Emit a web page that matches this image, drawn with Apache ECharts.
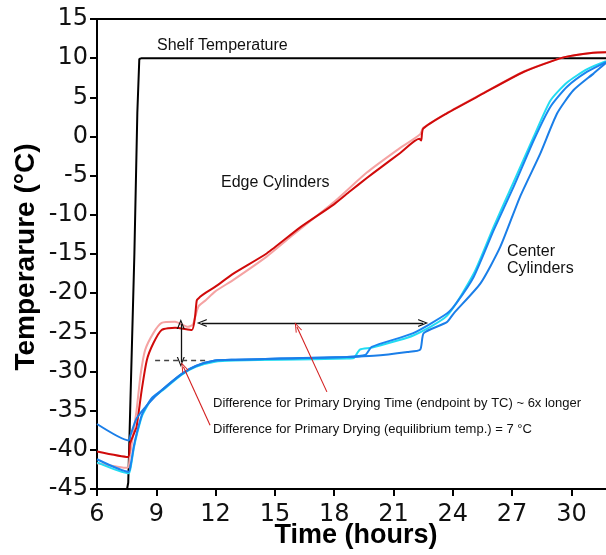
<!DOCTYPE html>
<html>
<head>
<meta charset="utf-8">
<script src="https://cdn.jsdelivr.net/npm/echarts@6/dist/echarts.min.js"></script>
<style>
html,body{margin:0;padding:0;background:#fff;}
#c{width:606px;height:555px;}
</style>
</head>
<body>
<div id="c"></div>
<script>
// ---- data (time in hours, temperature in °C) ----
var xTicks = [6, 9, 12, 15, 18, 21, 24, 27, 30];
var yTicks = [-45, -40, -35, -30, -25, -20, -15, -10, -5, 0, 5, 10, 15];

var shelfTemp = [[6,-45],[7.52,-45],[7.58,-44.2],[7.89,-15.1],[8.04,3.0],[8.14,9.9],[8.26,10],[31.75,10]];

var edgeDark = [[6,-40.2],[7.57,-40.9],[7.67,-39.2],[7.89,-37.8],[8.0,-37.1],[8.26,-32.4],[8.52,-28.55],[8.85,-26.4],
  [9.27,-24.7],[9.95,-24.4],[10.8,-24.7],[10.96,-23.0],[11.05,-20.9],[11.2,-20.5],[11.47,-20.0],[11.97,-19.2],
  [12.9,-17.5],[14.6,-14.9],[16.28,-11.6],[17.97,-8.7],[18.8,-7.0],[19.65,-5.3],[20.33,-4.0],[21.34,-2.1],
  [22.3,-0.3],[22.4,-0.5],[22.5,1.0],[23.7,2.96],[25.4,5.3],[27.6,8.27],[29.6,10.1],[31.1,10.7],[31.75,10.75]];

var edgeLight = [[6,-41.7],[7.55,-42.3],[7.65,-41.0],[7.8,-38.5],[8.0,-35.0],[8.2,-30.5],[8.43,-27.3],[8.85,-25.1],
  [9.27,-23.8],[9.95,-23.66],[10.6,-24.3],[10.85,-24.0],[11.13,-21.7],[11.5,-20.9],[11.97,-19.8],[12.9,-18.3],
  [14.6,-15.3],[15.8,-12.8],[17.97,-8.4],[19.65,-4.6],[21.2,-1.7],[22.35,0.3],[22.5,1.1],[23.7,3.0],[25.4,5.35],
  [27.6,8.3],[29.6,10.1],[31.1,10.7],[31.75,10.75]];

var centerA = [[6,-36.7],[7.6,-38.8],[7.7,-38.1],[8.0,-36.0],[8.6,-34.1],[9.27,-32.4],[10.29,-30.3],[11.0,-29.3],
  [11.97,-28.6],[13,-28.5],[15.27,-28.35],[18.64,-28.15],[20,-28.0],[21.7,-27.5],[22.35,-27.2],[22.53,-25.1],
  [23.7,-23.7],[24.04,-22.6],[25.4,-18.75],[26.4,-14.1],[27.4,-7.7],[28.43,-2.15],[29.28,2.96],[30.1,5.9],
  [31.13,8.06],[31.75,9.4]];

var centerB = [[6,-41.2],[7.6,-42.8],[7.72,-41.7],[7.86,-39.6],[8.03,-37.7],[8.29,-35.4],[8.77,-33.4],[9.27,-32.4],
  [10.29,-30.3],[11.0,-29.3],[11.97,-28.6],[13,-28.5],[15.27,-28.35],[18.64,-28.15],[19.57,-27.9],[19.9,-26.85],
  [22.0,-25.1],[23.7,-22.6],[24.2,-21.2],[25.06,-17.9],[26.07,-11.95],[27.08,-6.4],[28.1,-0.45],[28.94,3.8],
  [29.78,6.35],[30.8,8.27],[31.75,9.5]];

var centerCyan = [[6,-41.6],[7.6,-43.0],[7.72,-42.0],[7.86,-39.8],[8.03,-37.9],[8.29,-35.6],[8.77,-33.5],[9.27,-32.5],
  [10.29,-30.4],[11.0,-29.4],[11.97,-28.75],[13,-28.6],[15.27,-28.5],[18.64,-28.35],[18.98,-28.3],[19.3,-27.2],
  [19.9,-26.95],[22.0,-25.4],[23.7,-22.9],[25.06,-17.5],[26.07,-11.5],[27.08,-5.8],[28.1,0.0],[28.94,4.6],
  [29.78,6.9],[30.8,8.6],[31.75,9.6]];

// annotation segments
var timeArrow = [[11.3,-23.8],[22.5,-23.8]];
var tempArrow = [[10.24,-23.95],[10.24,-28.8]];
var equilLine = [[8.94,-28.6],[11.55,-28.6]];
var pointerTime = [[17.63,-32.6],[16.11,-24.3]];
var pointerTemp = [[11.72,-36.85],[10.37,-29.4]];

var chev = 'path://M5,0 L10,10 L8.5,10 L5,2.8 L1.5,10 L0,10 Z';

function seg(p){ return [{coord:p[0]},{coord:p[1]}]; }
function curve(data, color, z){
  return {type:'line', data:data, showSymbol:false, symbol:'none', smooth:0.2,
    lineStyle:{color:color, width:2}, z:z};
}

var chart = echarts.init(document.getElementById('c'), null, {renderer:'canvas'});
var tickFont = {fontFamily:'DejaVu Sans', fontSize:24, color:'#111'};

chart.setOption({
  animation:false,
  backgroundColor:'#fff',
  grid:{left:97, right:0, top:19, bottom:66},
  xAxis:[{
    type:'value', min:6, max:31.75, interval:3,
    axisLine:{show:true, onZero:false, lineStyle:{color:'#000', width:2}},
    axisTick:{show:true, inside:false, length:7, lineStyle:{color:'#000', width:2}},
    axisLabel:Object.assign({margin:14, showMaxLabel:false,
      formatter:function(v){ return xTicks.indexOf(v) >= 0 ? String(v) : ''; }}, tickFont),
    splitLine:{show:false}
  },{
    type:'value', position:'top', min:6, max:31.75,
    axisLine:{show:true, onZero:false, lineStyle:{color:'#000', width:2}},
    axisTick:{show:false}, axisLabel:{show:false}, splitLine:{show:false}
  }],
  yAxis:{
    type:'value', min:-45, max:15, interval:5,
    axisLine:{show:true, onZero:false, lineStyle:{color:'#000', width:2}},
    axisTick:{show:true, inside:false, length:7, lineStyle:{color:'#000', width:2}},
    axisLabel:Object.assign({margin:9,
      formatter:function(v){ return yTicks.indexOf(v) >= 0 ? String(v) : ''; }}, tickFont),
    splitLine:{show:false}
  },
  series:[
    {type:'line', data:shelfTemp, showSymbol:false, symbol:'none', lineStyle:{color:'#000', width:2}, z:3},
    curve(edgeLight, '#f5a3a3', 3),
    curve(edgeDark, '#d00a0a', 4),
    curve(centerCyan, '#22dcf2', 3),
    curve(centerB, '#1a84f0', 4),
    curve(centerA, '#1a7ee8', 4),
    {type:'line', data:[], z:6,
      markLine:{silent:true, animation:false, symbol:[chev, chev], symbolSize:[8,10],
        label:{show:false}, lineStyle:{color:'#111', width:1.3, type:'solid'},
        data:[seg(timeArrow), seg(tempArrow)]}},
    {type:'line', data:[], z:6,
      markLine:{silent:true, animation:false, symbol:['none','none'],
        label:{show:false}, lineStyle:{color:'#444', width:1.3, type:[5,4]},
        data:[seg(equilLine)]}},
    {type:'line', data:[], z:6,
      markLine:{silent:true, animation:false, symbol:['none', chev], symbolSize:[7,10],
        label:{show:false}, lineStyle:{color:'#d42020', width:1.1, type:'solid'},
        data:[seg(pointerTime), seg(pointerTemp)]}}
  ],
  graphic:[
    {type:'text', left:157, top:38, style:{text:'Shelf Temperature', font:'16px "Liberation Sans", Arial, sans-serif', fill:'#111'}},
    {type:'text', left:221, top:175, style:{text:'Edge Cylinders', font:'16px "Liberation Sans", Arial, sans-serif', fill:'#111'}},
    {type:'text', left:507, top:243, style:{text:'Center\nCylinders', lineHeight:17, font:'16px "Liberation Sans", Arial, sans-serif', fill:'#111'}},
    {type:'text', left:213, top:397, style:{text:'Difference for Primary Drying Time (endpoint by TC) ~ 6x longer', font:'13px "Liberation Sans", Arial, sans-serif', fill:'#111'}},
    {type:'text', left:213, top:423, style:{text:'Difference for Primary Drying (equilibrium temp.) = 7 \u00b0C', font:'13px "Liberation Sans", Arial, sans-serif', fill:'#111'}},
    {type:'text', x:356, y:536, style:{text:'Time (hours)', font:'bold 27px "Liberation Sans", Arial, sans-serif', fill:'#000', align:'center', verticalAlign:'middle'}},
    {type:'text', x:26, y:257, rotation:Math.PI/2, style:{text:'Temperarure (\u00b0C)', font:'bold 28px "Liberation Sans", Arial, sans-serif', fill:'#000', align:'center', verticalAlign:'middle'}}
  ]
});
</script>
</body>
</html>
